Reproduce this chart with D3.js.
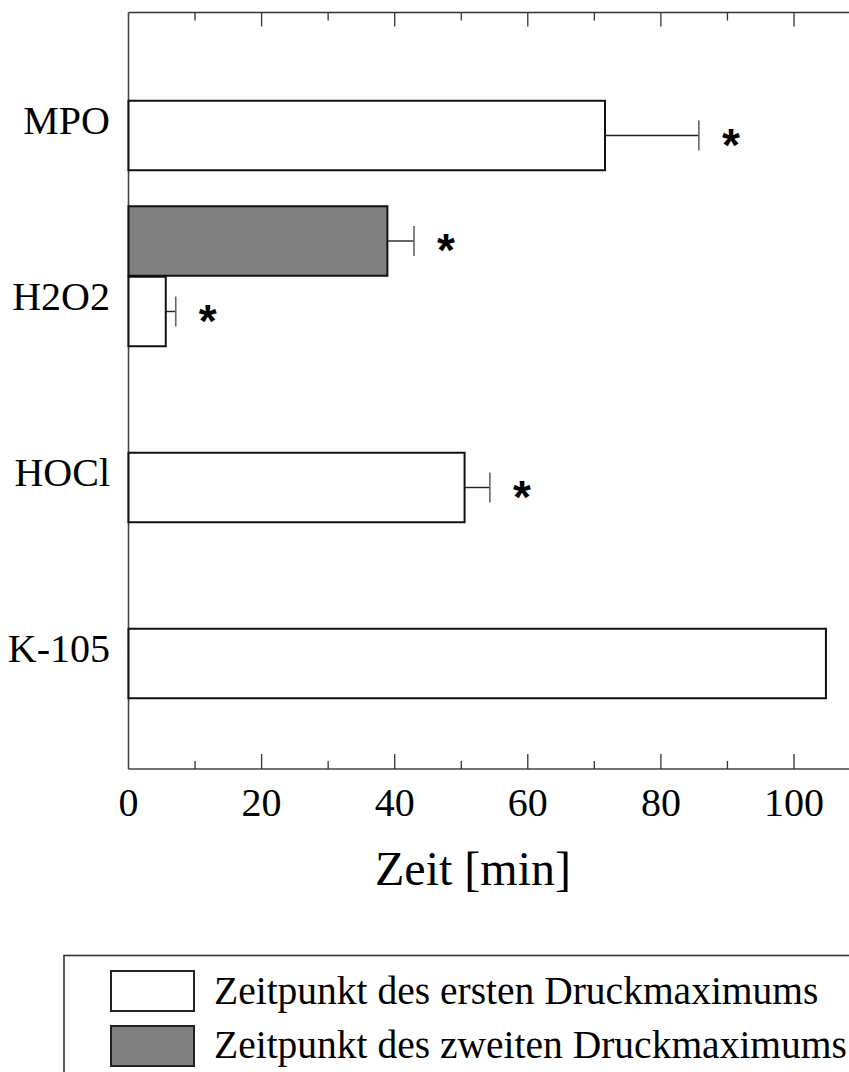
<!DOCTYPE html>
<html>
<head>
<meta charset="utf-8">
<script src="https://cdn.jsdelivr.net/npm/d3@7"></script>
<style>
  html, body { margin: 0; padding: 0; background: #fff; }
  svg { display: block; }
</style>
</head>
<body>
<div id="chart"></div>
<script>
// ---- data ----
const categories = ["MPO", "H2O2", "HOCl", "K-105"];
// first pressure maximum (white bars)
const firstMax = [71.6, 5.6, 50.5, 104.8];
const firstErr = [85.7, 7.1, 54.3, null];   // end of error bar
const firstSig = [true, true, true, false];
// second pressure maximum (grey bars), only H2O2
const secondCats = ["H2O2"];
const secondMax = [38.9];
const secondErr = [42.9];
const secondSig = [true];
const xTicks = [0, 20, 40, 60, 80, 100];
const xTitle = "Zeit [min]";
const legendLabels = ["Zeitpunkt des ersten Druckmaximums", "Zeitpunkt des zweiten Druckmaximums"];

// ---- layout ----
const W = 849, H = 1072;
const x0 = 128.5, yTop = 12.5, yBot = 769;
const svg = d3.select("#chart").append("svg").attr("width", W).attr("height", H);

const defs = svg.append("defs");
const pat = defs.append("pattern").attr("id", "grayfill").attr("width", 2).attr("height", 2)
  .attr("patternUnits", "userSpaceOnUse");
pat.append("rect").attr("width", 2).attr("height", 2).attr("fill", "#858585");
pat.append("rect").attr("width", 1).attr("height", 1).attr("fill", "#7a7a7a");
pat.append("rect").attr("x", 1).attr("y", 1).attr("width", 1).attr("height", 1).attr("fill", "#7a7a7a");

const x = d3.scaleLinear().domain([0, 100]).range([x0, 794]);
const y = d3.scalePoint().domain(categories).range([135.5, 663.5]);
const barH = 69.5;
const serif = "'Liberation Serif', 'Times New Roman', serif";

// axes
const gB = svg.append("g").attr("transform", `translate(0,${yBot})`);
gB.append("line").attr("x1", x0).attr("x2", W).attr("y1", 0).attr("y2", 0)
  .attr("stroke", "#444").attr("stroke-width", 1.6);
gB.selectAll("line.tk").data(d3.range(10, 101, 10)).join("line").attr("class", "tk")
  .attr("x1", d => x(d)).attr("x2", d => x(d))
  .attr("y1", 0).attr("y2", d => d % 20 === 0 ? -15 : -8)
  .attr("stroke", "#333").attr("stroke-width", 1.3);
gB.selectAll("text").data(xTicks).join("text")
  .attr("x", d => x(d)).attr("y", 47)
  .attr("text-anchor", "middle").attr("font-family", serif).attr("font-size", 40)
  .attr("fill", "#000").text(d => d);

const gT = svg.append("g").attr("transform", `translate(0,${yTop})`);
gT.append("line").attr("x1", x0).attr("x2", W).attr("y1", 0).attr("y2", 0)
  .attr("stroke", "#333").attr("stroke-width", 1.6);
gT.selectAll("line.tk").data(d3.range(10, 101, 10)).join("line").attr("class", "tk")
  .attr("x1", d => x(d)).attr("x2", d => x(d))
  .attr("y1", 0).attr("y2", d => d % 20 === 0 ? 14 : 8)
  .attr("stroke", "#333").attr("stroke-width", 1.3);

// left axis
svg.append("line").attr("x1", x0).attr("x2", x0).attr("y1", yTop).attr("y2", yBot)
  .attr("stroke", "#444").attr("stroke-width", 1.6);

// category labels
svg.append("g").selectAll("text").data(categories).join("text")
  .attr("x", 110).attr("y", d => y(d) - 1.5)
  .attr("text-anchor", "end").attr("font-family", serif).attr("font-size", 40)
  .attr("fill", "#000").text(d => d);

// axis title
svg.append("text").attr("x", 473).attr("y", 885).attr("text-anchor", "middle")
  .attr("font-family", serif).attr("font-size", 48).attr("fill", "#000").text(xTitle);

// bars
function drawSeries(cats, vals, errs, sigs, offset, fill) {
  const g = svg.append("g");
  cats.forEach((c, i) => {
    const yc = y(c) + offset;
    g.append("rect").attr("x", x(0)).attr("y", yc - barH / 2)
      .attr("width", x(vals[i]) - x(0)).attr("height", barH)
      .attr("fill", fill).attr("stroke", "#111").attr("stroke-width", 2);
    if (errs[i] != null) {
      g.append("line").attr("x1", x(vals[i])).attr("x2", x(errs[i]))
        .attr("y1", yc).attr("y2", yc).attr("stroke", "#222").attr("stroke-width", 1.4);
      g.append("line").attr("x1", x(errs[i])).attr("x2", x(errs[i]))
        .attr("y1", yc - 15).attr("y2", yc + 15).attr("stroke", "#666").attr("stroke-width", 1.6);
    }
    if (sigs[i]) {
      g.append("text").attr("x", x(errs[i]) + 32).attr("y", yc + 25)
        .attr("text-anchor", "middle").attr("font-family", "'Liberation Sans', Arial, sans-serif")
        .attr("font-weight", "bold").attr("font-size", 46).attr("fill", "#000").text("*");
    }
  });
}
drawSeries(categories, firstMax, firstErr, firstSig, 0, "#fff");
drawSeries(secondCats, secondMax, secondErr, secondSig, -barH - 1, "url(#grayfill)");

// legend
const lg = svg.append("g");
lg.append("rect").attr("x", 64).attr("y", 955.5).attr("width", 820).attr("height", 140)
  .attr("fill", "none").attr("stroke", "#333").attr("stroke-width", 1.6);
const lgFills = ["#fff", "url(#grayfill)"];
legendLabels.forEach((t, i) => {
  const yy = 971 + i * 55;
  lg.append("rect").attr("x", 111).attr("y", yy).attr("width", 83).attr("height", 40)
    .attr("fill", lgFills[i]).attr("stroke", "#222").attr("stroke-width", 2);
  lg.append("text").attr("x", 214).attr("y", 1003.5 + i * 54.5)
    .attr("font-family", serif).attr("font-size", 39.5).attr("fill", "#000").text(t);
});
</script>
</body>
</html>
